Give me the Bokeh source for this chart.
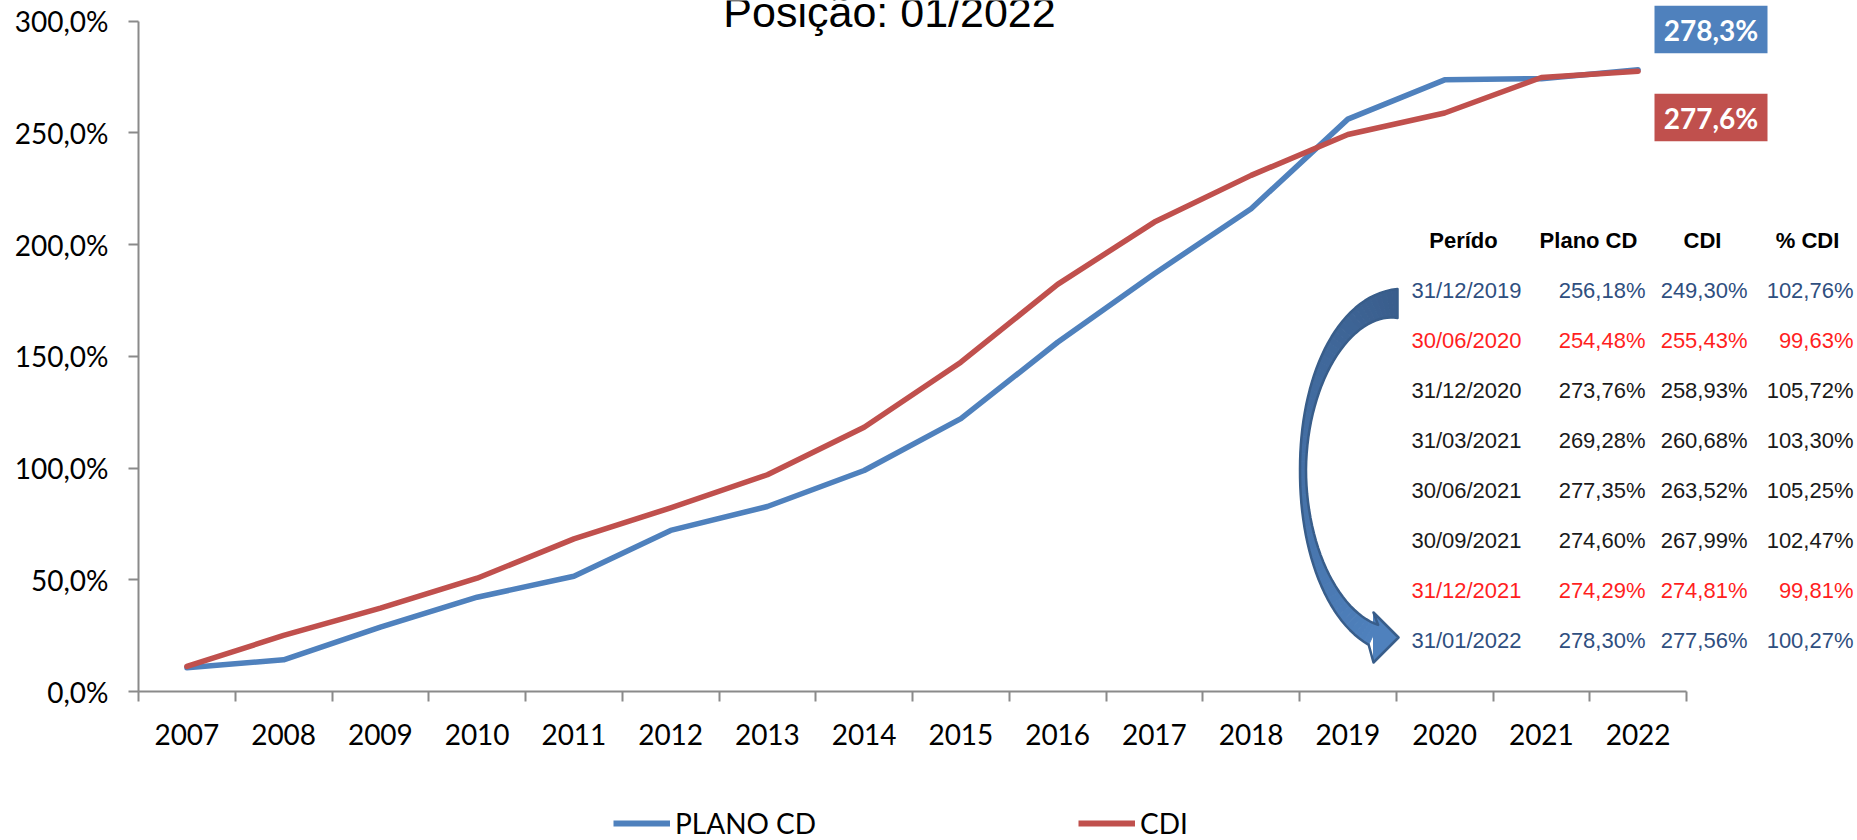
import numpy as np
from bokeh.plotting import figure
from bokeh.layouts import column
from bokeh.models import Range1d, LinearAxis, FixedTicker, Legend, LegendItem
from bokeh.core.properties import value
from bokeh.embed import file_html
from bokeh.resources import INLINE

# ---- data -------------------------------------------------------------
years = ["2007", "2008", "2009", "2010", "2011", "2012", "2013", "2014",
         "2015", "2016", "2017", "2018", "2019", "2020", "2021", "2022"]
plano_cd = [10.6, 14.2, 28.8, 42.2, 51.6, 72.1, 82.8, 98.9,
            122.1, 156.3, 187.0, 216.1, 256.18, 273.76, 274.29, 278.30]
cdi = [11.2, 25.1, 37.3, 50.7, 68.3, 82.2, 97.0, 118.3,
       147.4, 182.2, 210.1, 231.0, 249.30, 258.93, 274.81, 277.56]
y_ticks = [0, 50, 100, 150, 200, 250, 300]

title_text = "Posição: 01/2022"

table_header = ["Perído", "Plano CD", "CDI", "% CDI"]
table_dates = ["31/12/2019", "30/06/2020", "31/12/2020", "31/03/2021",
               "30/06/2021", "30/09/2021", "31/12/2021", "31/01/2022"]
table_plano = [256.18, 254.48, 273.76, 269.28, 277.35, 274.60, 274.29, 278.30]
table_cdi = [249.30, 255.43, 258.93, 260.68, 263.52, 267.99, 274.81, 277.56]
table_pct = [102.76, 99.63, 105.72, 103.30, 105.25, 102.47, 99.81, 100.27]

series_names = ["PLANO CD", "CDI"]

# ---- layout ------------------------------------------------------------
W = 1857
H_MAIN, H_LEG = 800, 40
LEFT = 138            # pixel column of the value axis
AXIS_Y = 691          # pixel row of the category axis
TOP_TICK_Y = 20.7     # pixel row of the 300% tick
CAT_PX = 96.75        # width of one category
PX_PER_UNIT = (AXIS_Y - TOP_TICK_Y) / 300.0

BLUE = "#4f81bd"
RED = "#c0504d"
AXIS_COLOR = "#8a8a8a"
SANS = "Liberation Sans"


def xd(px):
    return (px - LEFT) / CAT_PX


def yd(py):
    return (AXIS_Y - py) / PX_PER_UNIT


def pct(v, nd):
    return f"{v:.{nd}f}".replace(".", ",") + "%"


p = figure(width=W, height=H_MAIN,
           x_range=Range1d(0, xd(W)), y_range=Range1d(0, yd(0)),
           x_axis_type=None, y_axis_type=None,
           min_border_left=LEFT, min_border_right=0, min_border_top=0,
           min_border_bottom=H_MAIN - AXIS_Y,
           output_backend="svg", toolbar_location=None)
p.grid.visible = False
p.outline_line_color = None
p.background_fill_color = "white"
p.border_fill_color = "white"

# ---- axes ----------------------------------------------------------------
centers = [i + 0.5 for i in range(len(years))]
bounds = list(range(len(years) + 1))

xaxis = LinearAxis(bounds=(0, len(years)),
                   ticker=FixedTicker(ticks=centers, minor_ticks=bounds),
                   major_label_overrides={c: y for c, y in zip(centers, years)})
xaxis.major_tick_out = 0
xaxis.major_tick_in = 0
xaxis.minor_tick_out = 10
xaxis.minor_tick_in = 0
xaxis.major_label_standoff = 22

yaxis = LinearAxis(bounds=(0, 300), ticker=FixedTicker(ticks=y_ticks, minor_ticks=[]),
                   major_label_overrides={t: pct(t, 1) for t in y_ticks})
yaxis.major_tick_out = 10
yaxis.major_tick_in = 0
yaxis.minor_tick_out = 0
yaxis.minor_tick_in = 0
yaxis.major_label_standoff = 20

for ax in (xaxis, yaxis):
    ax.axis_line_color = AXIS_COLOR
    ax.axis_line_width = 2
    ax.major_tick_line_color = AXIS_COLOR
    ax.major_tick_line_width = 2
    ax.minor_tick_line_color = AXIS_COLOR
    ax.minor_tick_line_width = 2
    ax.major_label_text_font = "Lato"
    ax.major_label_text_font_size = "28px"
    ax.major_label_text_color = "black"

p.add_layout(xaxis, "below")
p.add_layout(yaxis, "left")

# ---- series --------------------------------------------------------------
p.line(centers, plano_cd, line_color=BLUE, line_width=5.5,
       line_join="round", line_cap="round")
p.line(centers, cdi, line_color=RED, line_width=5.5,
       line_join="round", line_cap="round")

# ---- title (runs off the top edge) -------------------------------------------
p.text(x=[xd(889)], y=[yd(11)], text=[title_text], text_font=value(SANS),
       text_font_size="43px", text_align="center", text_baseline="alphabetic",
       text_color="black")

# ---- end value boxes ---------------------------------------------------------
box_cx, box_w, box_h = 1710.5, 113, 47.7
for val, cy, col in ((plano_cd[-1], 29, BLUE), (cdi[-1], 117, RED)):
    p.rect(x=[xd(box_cx)], y=[yd(cy)], width=box_w / CAT_PX, height=box_h / PX_PER_UNIT,
           fill_color=col, line_color=None)
    p.text(x=[xd(box_cx)], y=[yd(cy)], text=[pct(val, 1)], text_font=value("Lato"),
           text_font_style="bold", text_font_size="28px", text_align="center",
           text_baseline="middle", text_color="white")

# ---- curved arrow ------------------------------------------------------------
cx, cy, rx, ry_top, ry_bot = 1397.0, 470.0, 94.5, 167.0, 170.0
s_base = 0.918
head_x, head_tip_x, head_cy, head_half = 1373.0, 1398.0, 637.0, 25.0


def centerline(s):
    phi = np.radians(270.0 - 180.0 * s)
    ry = ry_top if np.sin(phi) < 0 else ry_bot
    px = cx + rx * np.cos(phi)
    py = cy + ry * np.sin(phi)
    n = np.array([np.cos(phi) / rx, np.sin(phi) / ry])
    n = n / np.hypot(*n)
    return np.array([px, py]), n


def band_width(s):
    if s <= 0.5:
        return 6 + 23 * ((0.5 - s) / 0.5) ** 1.6
    return 6 + 16 * ((s - 0.5) / (s_base - 0.5)) ** 1.6


ss = np.linspace(0, s_base, 60)
outer, inner = [], []
for s in ss:
    c, n = centerline(s)
    w = band_width(s)
    outer.append(c + n * w / 2)
    inner.append(c - n * w / 2)
outer = np.array(outer)
inner = np.array(inner)

top_col = np.array([0x3a, 0x5e, 0x8d])
bot_col = np.array([0x4f, 0x81, 0xbd])
xs_list, ys_list, cols = [], [], []
for i in range(len(ss) - 1):
    t = i / (len(ss) - 2)
    rgb = (top_col + (bot_col - top_col) * t).astype(int)
    col = "#%02x%02x%02x" % tuple(rgb)
    quad = [outer[i], outer[i + 1], inner[i + 1], inner[i]]
    xs_list.append([xd(q[0]) for q in quad])
    ys_list.append([yd(q[1]) for q in quad])
    cols.append(col)
head = [(head_x, head_cy + head_half), (head_tip_x, head_cy), (head_x, head_cy - head_half)]
xs_list.append([xd(h[0]) for h in head])
ys_list.append([yd(h[1]) for h in head])
cols.append("#4f81bd")
p.patches(xs_list, ys_list, fill_color=cols, line_color=cols, line_width=1)

outline = list(outer) + [np.array(head[0]), np.array(head[1]), np.array(head[2])] + list(inner[::-1])
p.patch([xd(q[0]) for q in outline], [yd(q[1]) for q in outline],
        fill_alpha=0, line_color="#385d8a", line_width=2.5, line_join="round")

# ---- table ----------------------------------------------------------------
head_y = 240
row_y0, row_dy = 290, 50
header_x = [1463, 1588, 1702, 1807]
p.text(x=[xd(v) for v in header_x], y=[yd(head_y)] * 4, text=table_header,
       text_font=value(SANS), text_font_style="bold", text_font_size="22px",
       text_align="center", text_baseline="middle", text_color="black")

row_colors = ["#2f4f7f", "#ff1f1f", "#1a1a1a", "#1a1a1a",
              "#1a1a1a", "#1a1a1a", "#ff1f1f", "#2f4f7f"]
rows_y = [yd(row_y0 + row_dy * i) for i in range(len(table_dates))]
p.text(x=[xd(1466)] * len(table_dates), y=rows_y, text=table_dates,
       text_font=value(SANS), text_font_size="22px", text_align="center",
       text_baseline="middle", text_color=row_colors)
for col_vals, right in ((table_plano, 1645), (table_cdi, 1747), (table_pct, 1853)):
    p.text(x=[xd(right)] * len(col_vals), y=rows_y, text=[pct(v, 2) for v in col_vals],
           text_font=value(SANS), text_font_size="22px", text_align="right",
           text_baseline="middle", text_color=row_colors)

# ---- legend strip below the chart -------------------------------------------------
# (its frame lines up with the chart frame, so legend offsets are measured from LEFT)
leg = figure(width=W, height=H_LEG, x_range=Range1d(0, 1), y_range=Range1d(0, 1),
             x_axis_type=None, y_axis_type=None, min_border=0,
             output_backend="svg", toolbar_location=None)
leg.grid.visible = False
leg.outline_line_color = None
leg.background_fill_color = "white"
leg.border_fill_color = "white"

for name, col, left in zip(series_names, (BLUE, RED), (613, 1078)):
    r = leg.line([-5, -4], [-5, -5], line_color=col, line_width=6)
    lg = Legend(items=[LegendItem(label=name, renderers=[r])],
                location=(left - LEFT, 0), orientation="horizontal",
                padding=0, margin=0, spacing=0,
                glyph_width=57, glyph_height=28, label_standoff=5,
                label_text_font="Lato", label_text_font_size="28px",
                label_text_color="black", border_line_alpha=0,
                background_fill_alpha=0)
    leg.add_layout(lg, "center")

page = column(p, leg, spacing=0)
open("out.html", "w").write(file_html(page, INLINE))
